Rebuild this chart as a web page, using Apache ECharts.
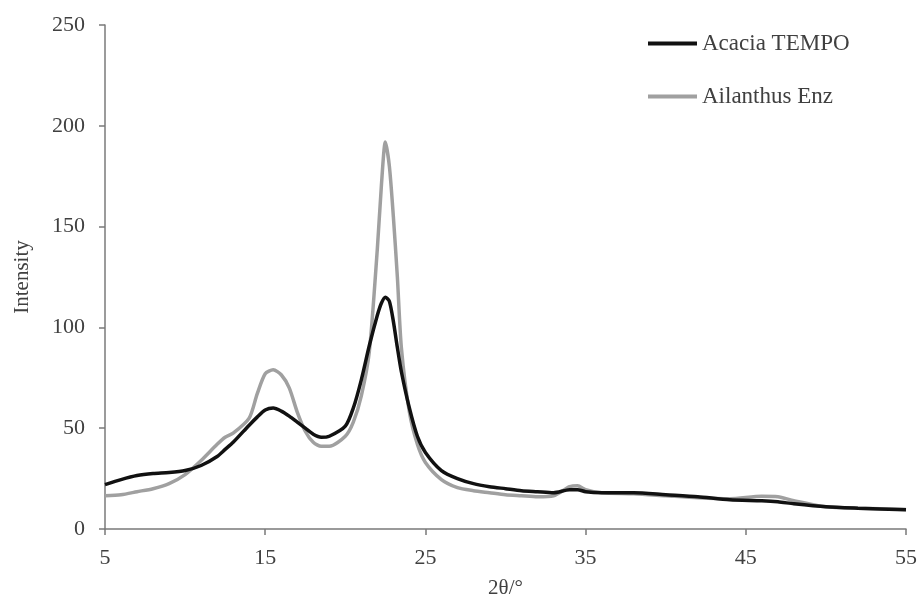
<!DOCTYPE html>
<html>
<head>
<meta charset="utf-8">
<style>
  html, body { margin: 0; padding: 0; background: #fff; }
  #chart { width: 920px; height: 604px; }
</style>
<script src="https://cdn.jsdelivr.net/npm/echarts@6/dist/echarts.min.js"></script>
</head>
<body>
<div id="chart"></div>
<script>
// 2θ positions (degrees)
var twoTheta = [5, 6, 7, 8, 9, 10, 11, 12, 12.5, 13, 14, 14.5, 15, 15.5, 16, 16.5, 17, 17.5, 18, 18.5, 19, 20, 20.5, 21, 21.5, 22, 22.25, 22.5, 22.75, 23, 23.25, 23.5, 24, 24.5, 25, 26, 27, 28, 29, 30, 31, 32, 33, 34, 34.5, 35, 36, 38, 40, 42, 44, 46, 47, 48, 50, 52, 55]
var acaciaTempo = [22, 24.5, 26.5, 27.5, 28, 29, 31.5, 36, 39.5, 43, 51.5, 55.5, 59, 60, 58.5, 56, 53, 50, 47, 45.5, 46, 51, 60, 74, 91, 106, 112, 115, 113, 103, 90, 78, 60, 46, 38, 29, 25, 22.5, 21, 20, 19, 18.5, 18, 19.5, 19.5, 18.5, 18, 18, 17, 16, 14.5, 14, 13.5, 12.5, 11, 10.3, 9.5]
var ailanthusEnz = [16.5, 17, 18.5, 20, 22.5, 27, 34, 42, 45.5, 47.5, 55, 67, 77, 79, 76.5, 70, 58, 48.5, 43, 41, 41, 46, 53, 66, 88, 139, 170, 192, 180, 155, 125, 90, 58, 42, 33, 24.5, 20.5, 19, 18, 17, 16.5, 16, 16.5, 21, 21.5, 19.5, 18, 17.5, 16.5, 15.5, 15, 16.2, 16, 14, 11, 10.3, 9.7]
var seriesNames = ['Acacia TEMPO', 'Ailanthus Enz']
var xTicks = { min: 5, max: 55, step: 10 }
var yTicks = { min: 0, max: 250, step: 50 }

function pairs(ys) {
  return twoTheta.map(function (x, i) { return [x, ys[i]] })
}

var font = '"Liberation Serif", "DejaVu Serif", serif'
var chart = echarts.init(document.getElementById('chart'))

chart.setOption({
  animation: false,
  backgroundColor: '#fff',
  grid: { left: 105, right: 11, top: 25, bottom: 71, containLabel: false },
  legend: {
    data: seriesNames,
    orient: 'vertical',
    left: 643,
    top: 27,
    itemGap: 30,
    icon: 'rect',
    itemWidth: 49,
    itemHeight: 4,
    textStyle: { fontFamily: font, fontSize: 23, color: '#404040' }
  },
  xAxis: {
    type: 'value',
    min: xTicks.min,
    max: xTicks.max,
    interval: xTicks.step,
    name: '2θ/°',
    nameLocation: 'middle',
    nameGap: 49,
    nameTextStyle: { fontFamily: font, fontSize: 21, color: '#404040' },
    axisLine: { lineStyle: { color: '#7a7a7a', width: 1.5 } },
    axisTick: { show: true, length: 6, lineStyle: { color: '#7a7a7a', width: 1.5 } },
    axisLabel: { margin: 18, fontFamily: font, fontSize: 22, color: '#404040' },
    splitLine: { show: false }
  },
  yAxis: {
    type: 'value',
    min: yTicks.min,
    max: yTicks.max,
    interval: yTicks.step,
    name: 'Intensity',
    nameLocation: 'middle',
    nameGap: 72,
    nameTextStyle: { fontFamily: font, fontSize: 21, color: '#404040' },
    axisLine: { show: true, lineStyle: { color: '#7a7a7a', width: 1.5 } },
    axisTick: { show: true, length: 6, lineStyle: { color: '#7a7a7a', width: 1.5 } },
    axisLabel: { margin: 20, fontFamily: font, fontSize: 22, color: '#404040' },
    splitLine: { show: false }
  },
  series: [
    {
      name: seriesNames[0],
      type: 'line',
      data: pairs(acaciaTempo),
      showSymbol: false,
      smooth: 0.25,
      z: 3,
      itemStyle: { color: '#111111' },
      lineStyle: { color: '#111111', width: 3.5 }
    },
    {
      name: seriesNames[1],
      type: 'line',
      data: pairs(ailanthusEnz),
      showSymbol: false,
      smooth: 0.25,
      z: 2,
      itemStyle: { color: '#a0a0a0' },
      lineStyle: { color: '#a0a0a0', width: 3.5 }
    }
  ]
})
</script>
</body>
</html>
